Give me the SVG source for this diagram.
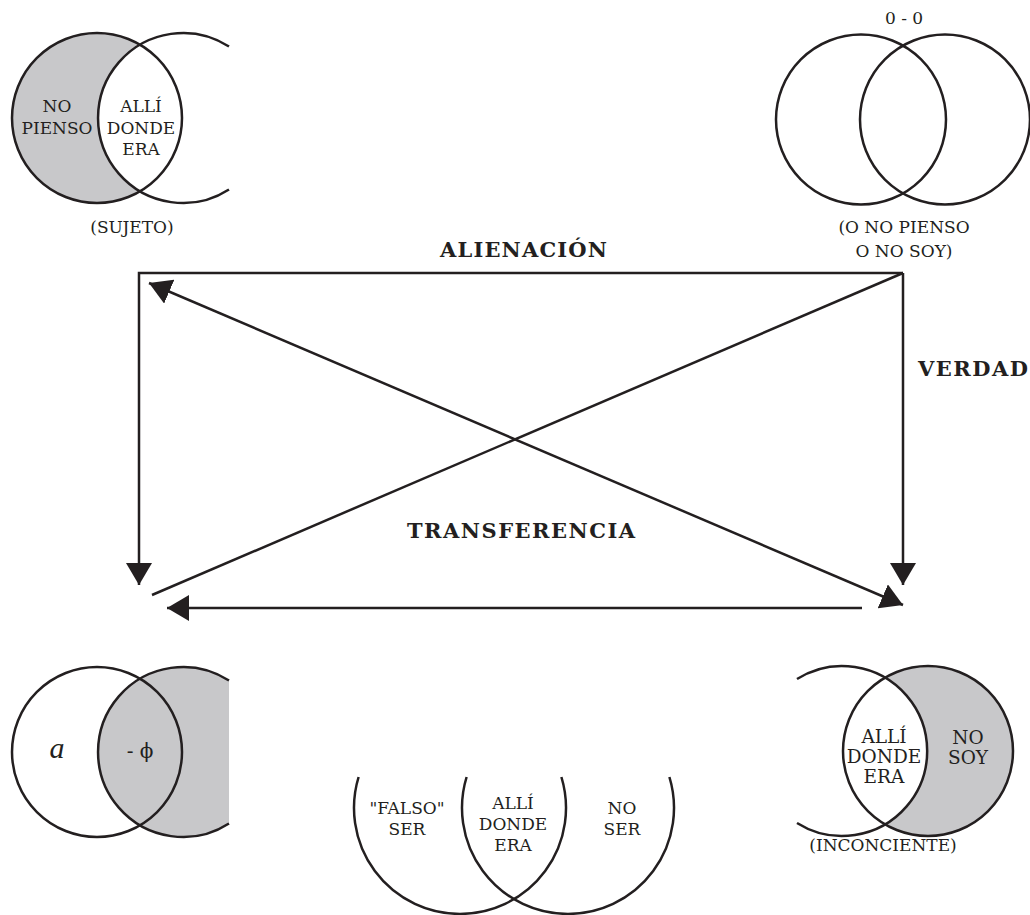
<svg xmlns="http://www.w3.org/2000/svg" width="1030" height="915" viewBox="0 0 1030 915">
<style>
.ln{fill:none;stroke:#231f20;stroke-width:2.5}
.sh{fill:#c8c8ca}
.wh{fill:#fff}
.t{font-family:"DejaVu Serif","Liberation Serif",serif;font-size:17px;fill:#231f20;text-anchor:middle}
.t2{font-size:18.5px}
.b{font-family:"DejaVu Serif","Liberation Serif",serif;font-size:21px;font-weight:bold;fill:#231f20}
.c{stroke:#231f20;stroke-width:2.5;fill:none}
</style>
<defs>
<marker id="ah" markerUnits="userSpaceOnUse" markerWidth="24" markerHeight="26" refX="22" refY="13" orient="auto-start-reverse" viewBox="0 0 24 26">
<path d="M0,0 L22,13 L0,26 Z" fill="#231f20"/>
</marker>
<clipPath id="clipTL"><circle cx="97" cy="118" r="85"/></clipPath>
<clipPath id="clipBR"><circle cx="928" cy="751" r="85"/></clipPath>
</defs>
<rect width="1030" height="915" fill="#fff"/>

<g id="sujeto">
<circle cx="97" cy="118" r="85" class="sh"/>
<circle cx="183" cy="118" r="85" class="wh" clip-path="url(#clipTL)"/>
<circle cx="97" cy="118" r="85" class="ln"/>
<path d="M229,46.5 A85,85 0 1,0 229,189.5" class="ln"/>
<text class="t" x="57" y="112">NO</text>
<text class="t" x="57" y="134">PIENSO</text>
<text class="t" x="141" y="112">ALLÍ</text>
<text class="t" x="141" y="134">DONDE</text>
<text class="t" x="141" y="155">ERA</text>
<text class="t" x="132" y="233">(SUJETO)</text>
</g>

<g id="o-no-pienso">
<text class="t" x="904" y="24">0 - 0</text>
<circle cx="861" cy="119.5" r="85" class="ln"/>
<circle cx="945" cy="119.5" r="85" class="ln"/>
<text class="t" x="904" y="233">(O NO PIENSO</text>
<text class="t" x="904" y="257">O NO SOY)</text>
</g>

<g id="objeto-a">
<path d="M229,680.5 A85,85 0 1,0 229,823.5 Z" class="sh"/>
<circle cx="97" cy="752" r="85" class="ln"/>
<path d="M229,680.5 A85,85 0 1,0 229,823.5" class="ln"/>
<text x="57" y="758" style="font-family:'Liberation Serif','DejaVu Serif',serif;font-style:italic;font-size:30px;fill:#231f20;text-anchor:middle">a</text>
<text x="140" y="758" style="font-family:'DejaVu Serif','Liberation Serif',serif;font-size:20px;fill:#231f20;text-anchor:middle">- ϕ</text>
</g>

<g id="inconsciente">
<circle cx="928" cy="751" r="85" class="sh"/>
<circle cx="842" cy="751" r="85" class="wh" clip-path="url(#clipBR)"/>
<circle cx="928" cy="751" r="85" class="ln"/>
<path d="M797,679 A85,85 0 1,1 797,823" class="ln"/>
<text class="t t2" x="884" y="743">ALLÍ</text>
<text class="t t2" x="884" y="763">DONDE</text>
<text class="t t2" x="884" y="783">ERA</text>
<text class="t t2" x="968" y="744">NO</text>
<text class="t t2" x="968" y="764">SOY</text>
<text class="t" x="883" y="851">(INCONCIENTE)</text>
</g>

<g id="falso-ser">
<path d="M358.6,777 A106,106 0 1,0 561.4,777" class="ln"/>
<path d="M466.6,777 A106,106 0 1,0 669.4,777" class="ln"/>
<text class="t" x="407" y="814">"FALSO"</text>
<text class="t" x="407" y="835">SER</text>
<text class="t" x="513" y="809">ALLÍ</text>
<text class="t" x="513" y="830">DONDE</text>
<text class="t" x="513" y="851">ERA</text>
<text class="t" x="622" y="814">NO</text>
<text class="t" x="622" y="835">SER</text>
</g>

<g id="connectors">
<path d="M903,273 H139 V585" class="c" marker-end="url(#ah)"/>
<path d="M903,273 V585" class="c" marker-end="url(#ah)"/>
<path d="M862,608 H167" class="c" marker-end="url(#ah)"/>
<path d="M903,273 L152,595" class="c"/>
<path d="M149,283 L903,605" class="c" marker-start="url(#ah)" marker-end="url(#ah)"/>
</g>

<g id="labels">
<text class="b" x="440" y="257" textLength="167" lengthAdjust="spacing">ALIENACIÓN</text>
<text class="b" x="918" y="376" textLength="110" lengthAdjust="spacing">VERDAD</text>
<text class="b" x="407" y="538" textLength="228" lengthAdjust="spacing">TRANSFERENCIA</text>
</g>
</svg>
